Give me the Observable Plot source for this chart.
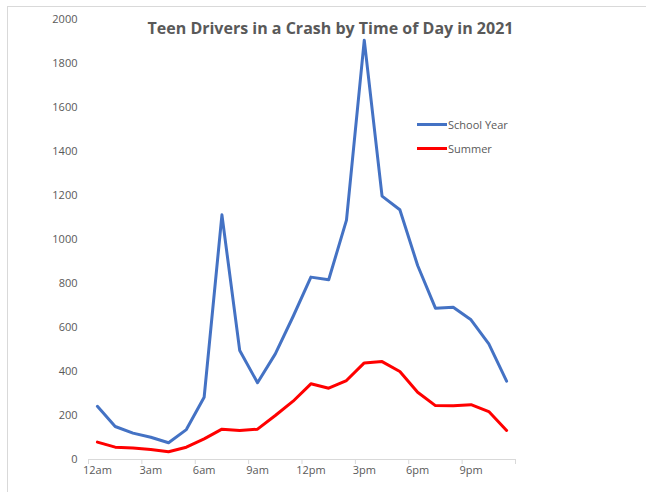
<!DOCTYPE html>
<html><head><meta charset="utf-8">
<script src="https://cdn.jsdelivr.net/npm/d3@7"></script>
<script src="https://cdn.jsdelivr.net/npm/@observablehq/plot@0.6"></script>
<style>
body{margin:0;background:#fff;}
#wrap{position:relative;width:646px;height:492px;font-family:"Open Sans",sans-serif;overflow:hidden;}
#frame{position:absolute;left:7px;top:6px;right:-2px;bottom:-2px;border-top:1px solid #d9d9d9;border-left:1px solid #d9d9d9;pointer-events:none;}
#title{position:absolute;left:0;width:661px;top:17px;text-align:center;font-size:16px;font-weight:bold;color:#595959;white-space:nowrap;}
.lg{position:absolute;left:417px;height:16px;display:flex;align-items:center;font-size:11px;color:#595959;white-space:nowrap;}
.lg .sw{display:inline-block;width:30px;height:3px;margin-right:1px;}
svg{position:absolute;left:0;top:0;}
</style></head><body>
<div id="wrap"></div>
<script>
const title = "Teen Drivers in a Crash by Time of Day in 2021";
const categories = ["12am","1am","2am","3am","4am","5am","6am","7am","8am","9am","10am","11am",
  "12pm","1pm","2pm","3pm","4pm","5pm","6pm","7pm","8pm","9pm","10pm","11pm"];
const seriesNames = ["School Year", "Summer"];
const seriesColors = ["#4472C4", "#FF0000"];
const schoolYear = [242, 150, 120, 101, 76, 136, 283, 1112, 495, 349, 480, 650,
  829, 817, 1088, 1906, 1197, 1135, 882, 688, 692, 635, 526, 356];
const summer = [79, 56, 52, 45, 35, 56, 94, 138, 132, 138, 200, 265,
  344, 324, 359, 439, 445, 400, 306, 245, 244, 249, 218, 132];
const yTicks = d3.range(0, 2001, 200);
const labelEvery = 3;

const rows = categories.map((c, i) => ({i, c, school: schoolYear[i], summer: summer[i]}));
const labelTicks = d3.range(0, categories.length, labelEvery);
const boundaryTicks = d3.range(-0.5, categories.length, labelEvery);

const chart = Plot.plot({
  width: 646,
  height: 492,
  marginLeft: 88,
  marginRight: 131,
  marginTop: 19,
  marginBottom: 33,
  style: {fontFamily: "'Open Sans', sans-serif", fontSize: "11px", color: "#595959", background: "transparent"},
  x: {domain: [-0.5, categories.length - 0.5]},
  y: {domain: [0, 2000]},
  marks: [
    Plot.axisY({ticks: yTicks, tickFormat: d => String(d), tickSize: 0, tickPadding: 11, label: null, fill: "#595959"}),
    Plot.ruleY([0], {stroke: "#d9d9d9", strokeWidth: 1}),
    Plot.axisX({ticks: boundaryTicks, tickFormat: () => "", tickSize: 5, stroke: "#d9d9d9", label: null}),
    Plot.axisX({ticks: labelTicks, tickFormat: i => categories[i], tickSize: 0, tickPadding: 7, label: null, fill: "#595959"}),
    Plot.line(rows, {x: "i", y: "school", stroke: seriesColors[0], strokeWidth: 3}),
    Plot.line(rows, {x: "i", y: "summer", stroke: seriesColors[1], strokeWidth: 3})
  ]
});

const wrap = document.getElementById("wrap");
wrap.appendChild(chart);
const frame = document.createElement("div"); frame.id = "frame"; wrap.appendChild(frame);
const t = document.createElement("div"); t.id = "title"; t.textContent = title; wrap.appendChild(t);
const legendTops = [116, 140];
seriesNames.forEach((name, k) => {
  const d = document.createElement("div");
  d.className = "lg";
  d.style.top = legendTops[k] + "px";
  const sw = document.createElement("span");
  sw.className = "sw"; sw.style.background = seriesColors[k];
  d.appendChild(sw);
  d.appendChild(document.createTextNode(name));
  wrap.appendChild(d);
});
</script>
</body></html>
